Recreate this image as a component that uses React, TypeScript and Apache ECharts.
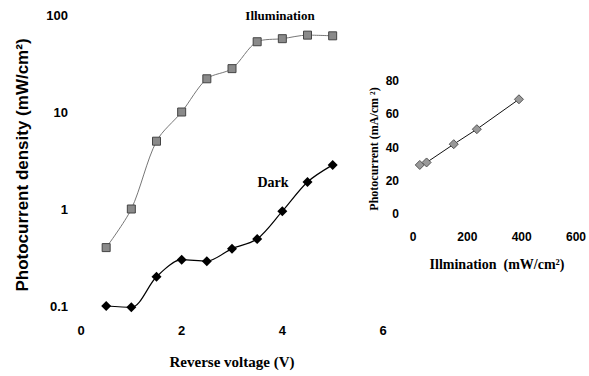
import React, { useEffect, useRef } from "react";
import * as echarts from "echarts";

const voltage = [0.5, 1, 1.5, 2, 2.5, 3, 3.5, 4, 4.5, 5];
const illumination = [0.4, 1.0, 5.0, 10, 22, 28, 53, 57, 62, 61];
const dark = [0.1, 0.097, 0.2, 0.3, 0.29, 0.39, 0.49, 0.95, 1.9, 2.85];
const insetPower = [25, 50, 150, 235, 390];
const insetCurrent = [29.5, 31, 42, 51, 69];

const sansBold = { fontFamily: "Liberation Sans, Arial, sans-serif", fontWeight: "bold" as const, color: "#000" };
const serif = "Liberation Serif, Times New Roman, serif";

export default function App() {
  const ref = useRef<HTMLDivElement>(null);
  useEffect(() => {
    const chart = echarts.init(ref.current!, null, { renderer: "svg" });
    const hiddenAxis = { axisLine: { show: false }, axisTick: { show: false }, splitLine: { show: false } };
    chart.setOption({
      animation: false,
      backgroundColor: "#fff",
      grid: [
        { left: 81, top: 15, width: 302, height: 291 },
        { left: 413, top: 81, width: 167, height: 133 },
      ],
      xAxis: [
        { gridIndex: 0, type: "value", min: 0, max: 6, interval: 2, ...hiddenAxis, axisLabel: { ...sansBold, fontSize: 13, margin: 18 } },
        { gridIndex: 1, type: "value", min: 0, max: 600, interval: 200, ...hiddenAxis, axisLabel: { ...sansBold, fontSize: 12, margin: 17 } },
      ],
      yAxis: [
        { gridIndex: 0, type: "log", logBase: 10, min: 0.1, max: 100, ...hiddenAxis, axisLabel: { ...sansBold, fontSize: 13, margin: 13, formatter: (v: number) => String(v) } },
        { gridIndex: 1, type: "value", min: 0, max: 80, interval: 20, ...hiddenAxis, axisLabel: { ...sansBold, fontSize: 12, margin: 14 } },
      ],
      series: [
        {
          type: "line", xAxisIndex: 0, yAxisIndex: 0, smooth: 0.3, clip: false,
          data: voltage.map((v, i) => [v, illumination[i]]),
          symbol: "rect", symbolSize: 8,
          lineStyle: { color: "#777", width: 1 },
          itemStyle: { color: "#8a8a8a", borderColor: "#444", borderWidth: 1 },
        },
        {
          type: "line", xAxisIndex: 0, yAxisIndex: 0, smooth: 0.3, clip: false,
          data: voltage.map((v, i) => [v, dark[i]]),
          symbol: "diamond", symbolSize: 10,
          lineStyle: { color: "#000", width: 1.2 },
          itemStyle: { color: "#000" },
        },
        {
          type: "line", xAxisIndex: 1, yAxisIndex: 1,
          data: insetPower.map((v, i) => [v, insetCurrent[i]]),
          symbol: "diamond", symbolSize: 9,
          lineStyle: { color: "#111", width: 1 },
          itemStyle: { color: "#999", borderColor: "#555", borderWidth: 1 },
        },
      ],
      graphic: [
        { type: "text", x: 22, y: 165, rotation: Math.PI / 2, style: { text: "Photocurrent density (mW/cm²)", fontFamily: "Liberation Sans, Arial, sans-serif", fontWeight: "bold", fontSize: 17, fill: "#000", align: "center", verticalAlign: "middle" } },
        { type: "text", x: 232, y: 362, style: { text: "Reverse voltage (V)", fontFamily: serif, fontWeight: "bold", fontSize: 15, fill: "#000", align: "center", verticalAlign: "middle" } },
        { type: "text", x: 280, y: 15, style: { text: "Illumination", fontFamily: serif, fontWeight: "bold", fontSize: 13, fill: "#000", align: "center", verticalAlign: "middle" } },
        { type: "text", x: 273, y: 182, style: { text: "Dark", fontFamily: serif, fontWeight: "bold", fontSize: 14, fill: "#000", align: "center", verticalAlign: "middle" } },
        { type: "text", x: 374, y: 149, rotation: Math.PI / 2, style: { text: "Photocurrent (mA/cm ²)", fontFamily: serif, fontWeight: "bold", fontSize: 12, fill: "#000", align: "center", verticalAlign: "middle" } },
        { type: "text", x: 497, y: 264, style: { text: "Illmination  (mW/cm²)", fontFamily: serif, fontWeight: "bold", fontSize: 14, fill: "#000", align: "center", verticalAlign: "middle" } },
      ],
    });
    return () => chart.dispose();
  }, []);
  return <div ref={ref} style={{ width: 589, height: 376, position: "fixed", left: 0, top: 0 }} />;
}
